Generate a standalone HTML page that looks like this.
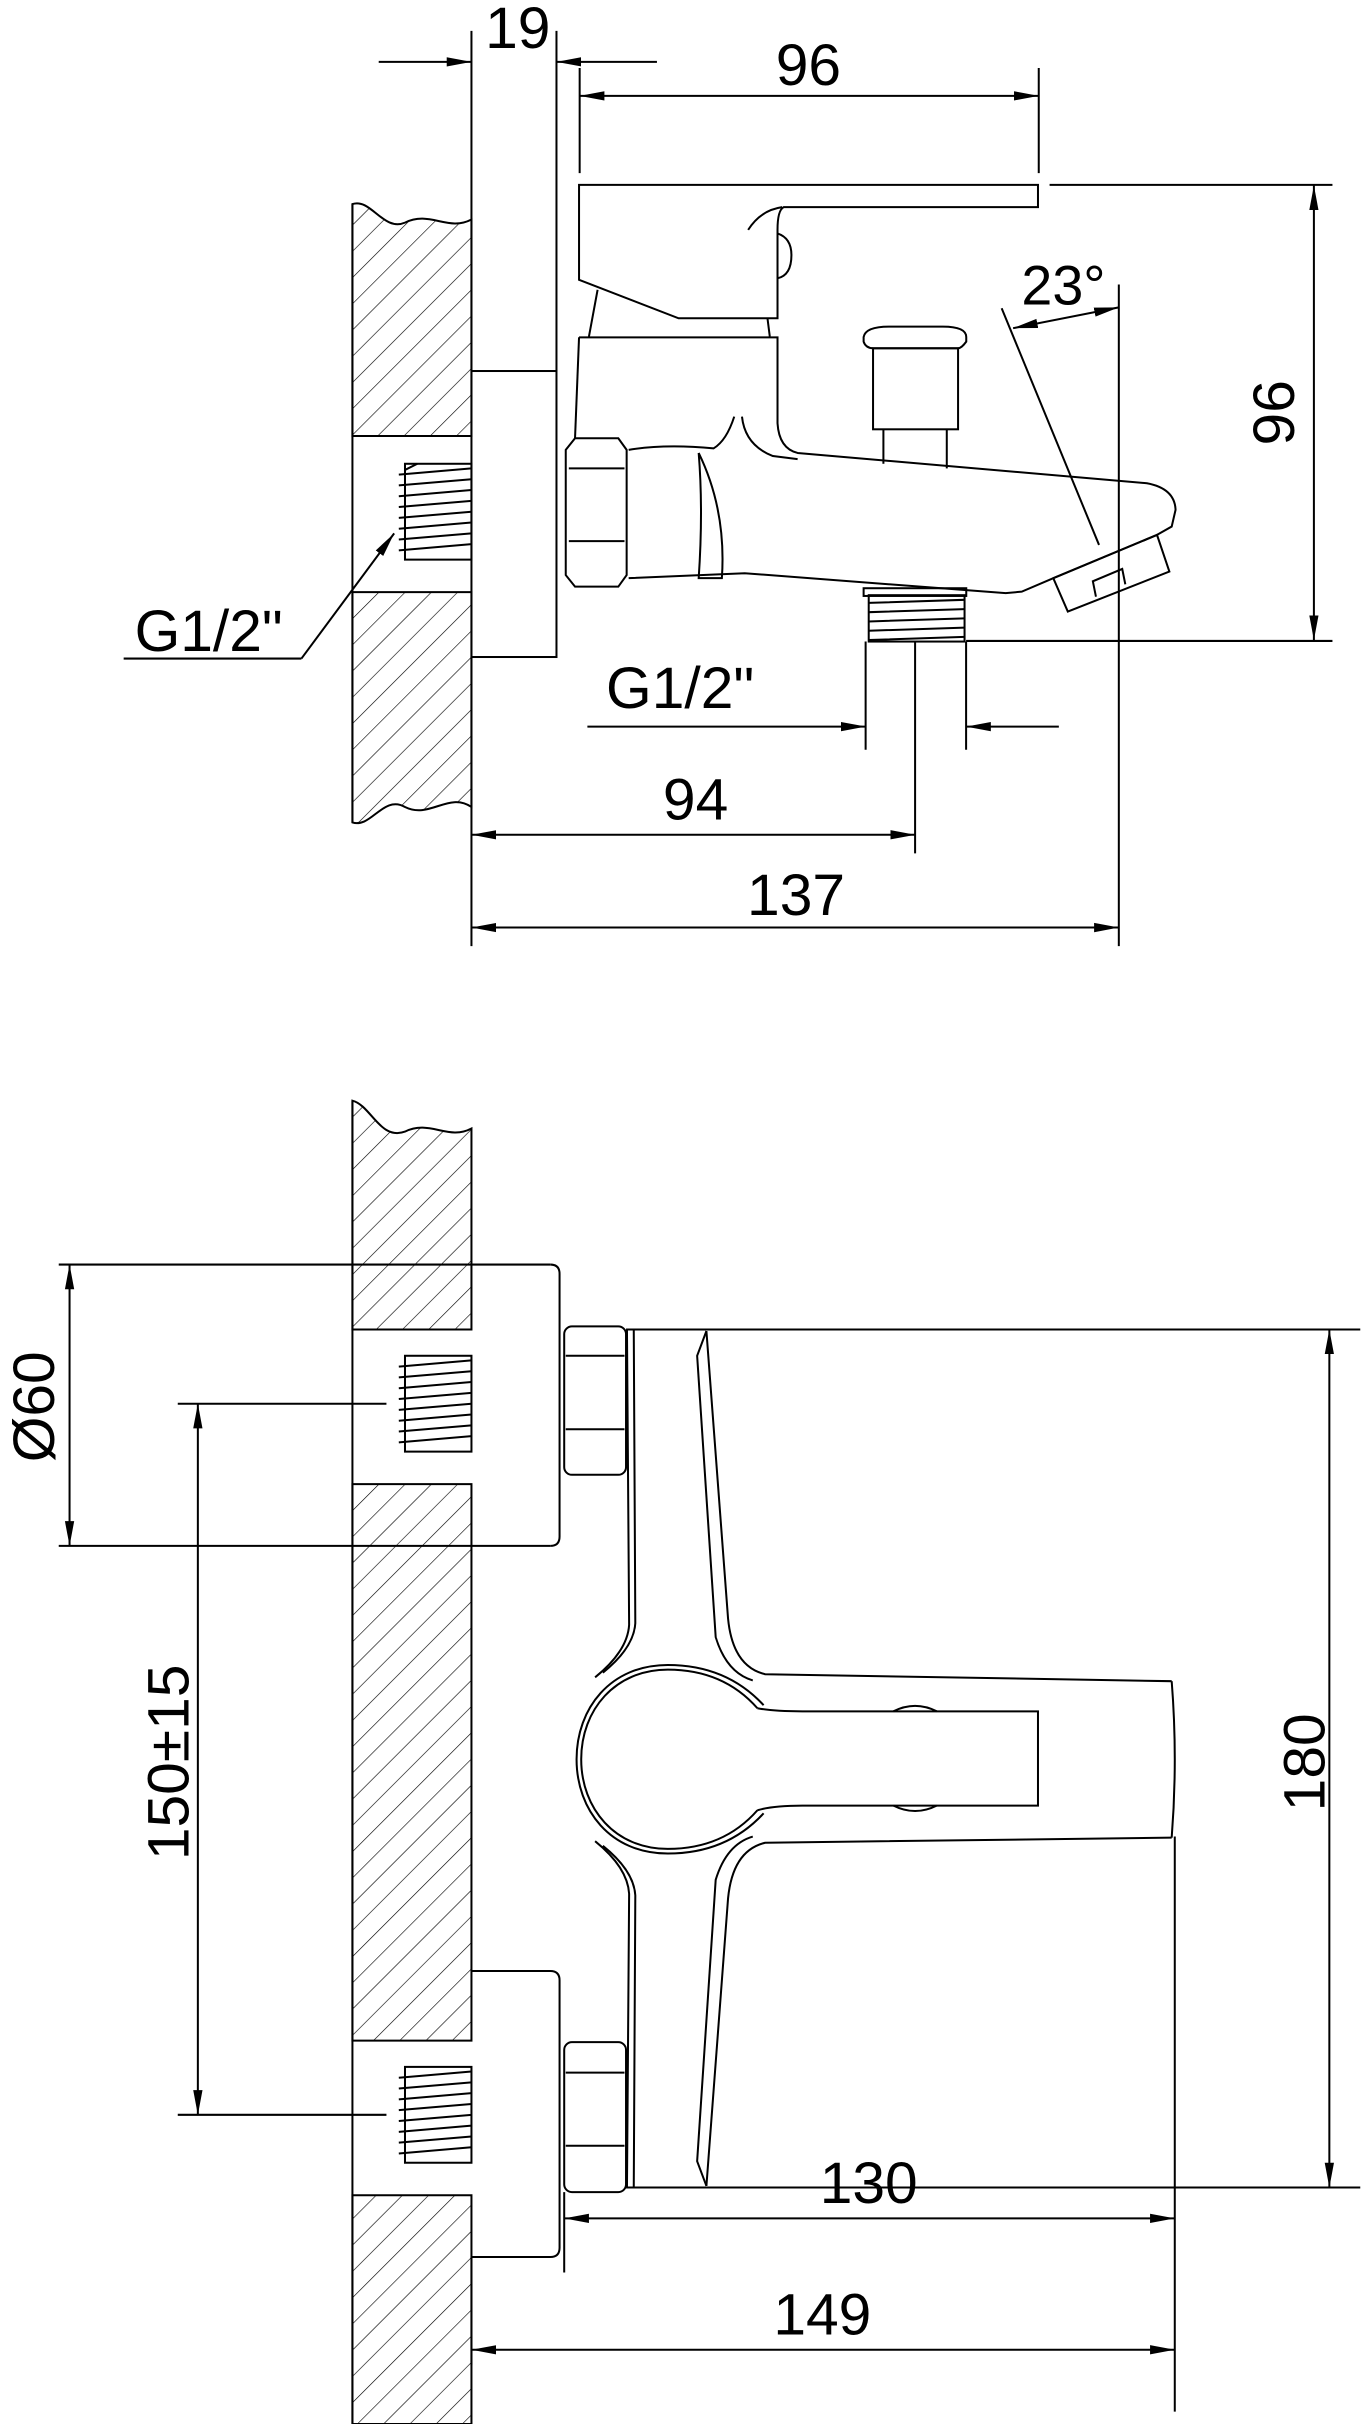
<!DOCTYPE html>
<html><head><meta charset="utf-8"><style>
html,body{margin:0;padding:0;background:#fff;}
svg{display:block;}
text{font-family:"Liberation Sans",sans-serif;fill:#000;}
</style></head><body>
<svg width="1368" height="2424" viewBox="0 0 885 1568" preserveAspectRatio="none" xmlns="http://www.w3.org/2000/svg">
<defs>
<pattern id="h" patternUnits="userSpaceOnUse" width="12" height="12" patternTransform="rotate(45)">
<line x1="0" y1="0" x2="0" y2="12" stroke="#000" stroke-width="0.8"/>
</pattern>
<marker id="a" markerUnits="userSpaceOnUse" markerWidth="16" markerHeight="8" refX="16" refY="4" orient="auto-start-reverse">
<path d="M0,1 L16,4 L0,7 Z" fill="#000"/>
</marker>
</defs>
<g fill="none" stroke="#000" stroke-width="1.3">

<!-- ===== TOP VIEW WALL ===== -->
<path d="M228,132 C240,128 248,150 262,144 C278,136 290,150 305,142 L305,282 L228,282 Z" fill="url(#h)"/>
<path d="M228,383 L305,383 L305,522 C290,512 278,530 262,522 C248,514 240,536 228,532 Z" fill="url(#h)"/>
<line x1="228" y1="132" x2="228" y2="532"/>
<rect x="262" y="300" width="43" height="62"/>
<path d="M262,304 L270,300 M258,307 L305,303 M258,314 L305,310 M258,321 L305,317 M258,328 L305,324 M258,335 L305,331 M258,342 L305,338 M258,349 L305,345 M258,356 L305,352"/>
<rect x="305" y="240" width="55" height="185"/>
<line x1="305" y1="20" x2="305" y2="240"/>
<line x1="360" y1="20" x2="360" y2="240"/>
<line x1="305" y1="425" x2="305" y2="612"/>

<path d="M374.6,119.6 L671.5,119.6 L671.5,134 L507,134 Q503,136 503,148.7 L503,205.9 L439,205.9 L374.6,181 Z"/>
<path d="M484,148.7 Q492,136 506,134"/>
<path d="M503,151 Q512,154 512,165 Q512,178 503,180"/>
<path d="M386.6,187.5 L381,217.7 M496.5,205.9 L498,217.7"/>
<path d="M374.6,218.2 L503,218.2 L503,273.8 Q504,290 516,293 L742,312.6 Q760,316 760.5,329.8 L758,340.6 L748.5,346 L681.4,374 L661,382.7 L650.6,383.7 L481.8,370.8 L406.7,374"/>
<path d="M374.6,218.2 L372,283.5"/>
<path d="M406.7,291 Q430,287 461.7,290 Q470,285 475,269.5"/>
<path d="M480,269.5 Q482,288 500,295 L516,297"/>
<path d="M452,293 Q470,330 467,374 L452,374 Q455,330 452,293"/>
<path d="M372,283.5 L400,283.5 L405.4,291 L405.4,372 L400,379.5 L372,379.5 L366,372 L366,291 Z"/>
<line x1="368" y1="303" x2="404" y2="303"/>
<line x1="368" y1="350" x2="404" y2="350"/>
<path d="M558.7,218 Q560,211.3 575,211.3 L610,211.3 Q625,211.3 625.1,218 L625.1,221 Q622,225.3 619.8,225.3 L564.8,225.3 Q560,225 558.7,221 Z"/>
<rect x="564.8" y="225.3" width="55" height="52.4"/>
<line x1="571.5" y1="277.7" x2="571.5" y2="300"/>
<line x1="612.5" y1="277.7" x2="612.5" y2="303"/>
<path d="M681.4,374 L748.5,346 L756.5,369.7 L690.8,395.6 Z"/>
<path d="M709,386 L707,376 L726,368 L728,378"/>
<rect x="558.7" y="380.5" width="66.4" height="5"/>
<rect x="562" y="385" width="62" height="30"/>
<path d="M562,390 L624,388 M562,396 L624,394 M562,402 L624,400 M562,408 L624,406 M562,414 L624,412"/>

<line x1="648" y1="199.4" x2="711" y2="352.5"/>
<line x1="723.8" y1="184" x2="723.8" y2="612"/>
<line x1="655.4" y1="212.3" x2="723.8" y2="198.8" marker-start="url(#a)" marker-end="url(#a)"/>

<line x1="245" y1="40" x2="305" y2="40" marker-end="url(#a)"/>
<line x1="425" y1="40" x2="360" y2="40" marker-end="url(#a)"/>
<line x1="375" y1="44" x2="375" y2="112"/>
<line x1="672" y1="44" x2="672" y2="112"/>
<line x1="375" y1="62" x2="672" y2="62" marker-start="url(#a)" marker-end="url(#a)"/>
<line x1="679" y1="119.6" x2="862" y2="119.6"/>
<line x1="625" y1="414.6" x2="862" y2="414.6"/>
<line x1="850" y1="120" x2="850" y2="414" marker-start="url(#a)" marker-end="url(#a)"/>
<line x1="380" y1="470" x2="560" y2="470" marker-end="url(#a)"/>
<line x1="685" y1="470" x2="625" y2="470" marker-end="url(#a)"/>
<line x1="560" y1="415" x2="560" y2="485"/>
<line x1="625" y1="415" x2="625" y2="485"/>
<line x1="592" y1="415" x2="592" y2="552"/>
<line x1="305" y1="540" x2="592" y2="540" marker-start="url(#a)" marker-end="url(#a)"/>
<line x1="305" y1="600" x2="723.8" y2="600" marker-start="url(#a)" marker-end="url(#a)"/>
<line x1="80" y1="426" x2="195" y2="426"/>
<line x1="195" y1="426" x2="255" y2="345" marker-end="url(#a)"/>

<!-- ===== BOTTOM VIEW WALL ===== -->
<path d="M228,712 C240,715 246,738 262,732 C278,724 290,738 305,730 L305,860 L228,860 Z" fill="url(#h)"/>
<path d="M228,960 L305,960 L305,1320 L228,1320 Z" fill="url(#h)"/>
<path d="M228,1420 L305,1420 L305,1568 L228,1568 Z" fill="url(#h)"/>
<line x1="228" y1="712" x2="228" y2="1568"/>
<rect x="262" y="877" width="43" height="62"/>
<path d="M258,884 L305,880 M258,891 L305,887 M258,898 L305,894 M258,905 L305,901 M258,912 L305,908 M258,919 L305,915 M258,926 L305,922 M258,933 L305,929"/>
<rect x="262" y="1337" width="43" height="62"/>
<path d="M258,1344 L305,1340 M258,1351 L305,1347 M258,1358 L305,1354 M258,1365 L305,1361 M258,1372 L305,1368 M258,1379 L305,1375 M258,1386 L305,1382 M258,1393 L305,1389"/>
<line x1="38" y1="818" x2="356" y2="818"/>
<path d="M356,818 Q362,818 362,824 L362,994 Q362,1000 356,1000"/>
<line x1="38" y1="1000" x2="356" y2="1000"/>
<path d="M305,1275 L356,1275 Q362,1275 362,1281 L362,1454 Q362,1460 356,1460 L305,1460"/>
<line x1="305" y1="1460" x2="305" y2="1530"/>

<rect x="365" y="858" width="40" height="96" rx="5"/>
<line x1="366" y1="877" x2="404" y2="877"/>
<line x1="366" y1="924.5" x2="404" y2="924.5"/>
<rect x="365" y="1321" width="40" height="97" rx="5"/>
<line x1="366" y1="1340.7" x2="404" y2="1340.7"/>
<line x1="366" y1="1388" x2="404" y2="1388"/>

<line x1="405" y1="860" x2="880" y2="860"/>
<line x1="405" y1="1415" x2="880" y2="1415"/>
<path d="M405.6,860 L407,1051 Q406,1068 385,1085"/>
<path d="M405.6,1415 L407,1225 Q406,1208 385,1191"/>
<path d="M410,860 L411,1050 Q410,1066 390,1082"/>
<path d="M410,1415 L411,1226 Q410,1210 390,1194"/>
<path d="M457,861 L471,1047 Q474,1078 495,1083 L758,1087.5"/>
<path d="M457,861 L451,877 L463,1059 Q470,1082 487,1087"/>
<path d="M457,1414 L471,1228 Q474,1197 495,1192 L758,1188.7"/>
<path d="M457,1414 L451,1398 L463,1216 Q470,1193 487,1188"/>
<path d="M758,1087.5 Q762,1138 758,1188.7"/>
<path d="M494,1103 Q470,1077 432,1077 C395,1077 373,1105 373,1138 C373,1171 395,1199 432,1199 Q470,1199 494,1173"/>
<path d="M490,1105 Q468,1080 432,1080 C398,1080 376,1106 376,1138 C376,1170 398,1196 432,1196 Q468,1196 490,1171"/>
<path d="M490,1105 Q500,1107 519,1107 L671.5,1107 L671.5,1168 L519,1168 Q500,1168 490,1171"/>
<path d="M578,1107 Q592,1100 606,1107 M578,1168 Q592,1175 606,1168"/>
<line x1="760" y1="1188" x2="760" y2="1560"/>

<line x1="45" y1="818" x2="45" y2="1000" marker-start="url(#a)" marker-end="url(#a)"/>
<line x1="115" y1="908" x2="250" y2="908"/>
<line x1="115" y1="1368" x2="250" y2="1368"/>
<line x1="128" y1="908" x2="128" y2="1368" marker-start="url(#a)" marker-end="url(#a)"/>
<line x1="860" y1="860" x2="860" y2="1415" marker-start="url(#a)" marker-end="url(#a)"/>
<line x1="365" y1="1418" x2="365" y2="1470"/>
<line x1="365" y1="1435" x2="760" y2="1435" marker-start="url(#a)" marker-end="url(#a)"/>
<line x1="305" y1="1520" x2="760" y2="1520" marker-start="url(#a)" marker-end="url(#a)"/>
</g>

<g font-size="38" text-anchor="middle">
<text x="335" y="31">19</text>
<text x="523" y="55">96</text>
<text x="688" y="197" font-size="36">23°</text>
<text x="837" y="267" transform="rotate(-90 837 267)">96</text>
<text x="135" y="421">G1/2"</text>
<text x="440" y="458">G1/2"</text>
<text x="450" y="530">94</text>
<text x="515" y="592">137</text>
<text x="35" y="910" transform="rotate(-90 35 910)">Ø60</text>
<text x="122" y="1140" transform="rotate(-90 122 1140)">150±15</text>
<text x="857" y="1140" transform="rotate(-90 857 1140)">180</text>
<text x="562" y="1425">130</text>
<text x="532" y="1510">149</text>
</g>
</svg>
</body></html>
